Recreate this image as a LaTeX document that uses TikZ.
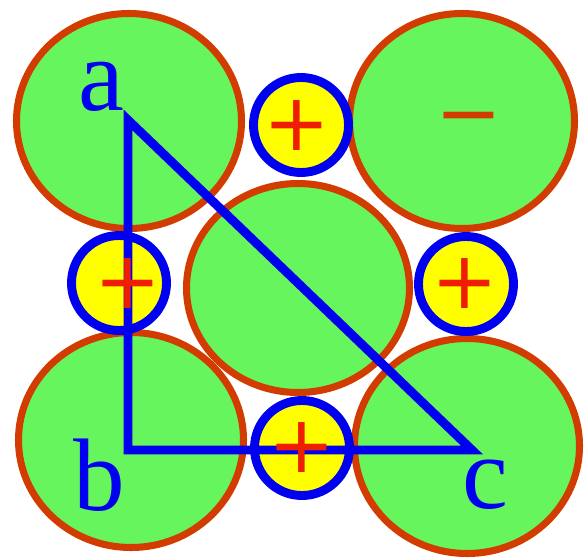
\documentclass[tikz,border=0pt]{standalone}
\usepackage{fontspec}
\setmainfont{Liberation Serif}
\newfontfamily\signfont{DejaVu Sans}
\usetikzlibrary{shapes.geometric}
\definecolor{ionred}{HTML}{D23C00}
\definecolor{iongreen}{HTML}{66F55C}
\definecolor{ionblue}{HTML}{0000F0}
\definecolor{plusred}{HTML}{F01E00}
\definecolor{ionyellow}{HTML}{FFFF00}

\begin{document}
\begin{tikzpicture}[x=0.03cm, y=-0.03cm,
    anion/.style={ellipse, draw=ionred, fill=iongreen, line width=6pt, minimum width=6.75cm, minimum height=6.45cm, inner sep=0pt},
    cation/.style={circle, draw=ionblue, fill=ionyellow, line width=7.6pt, minimum size=2.85cm, inner sep=0pt},
    chargesign/.style={font=\signfont\fontsize{68}{68}\selectfont, inner sep=0pt},
    vertexlabel/.style={font=\fontsize{88}{88}\selectfont, text=ionblue, inner sep=0pt}]
  \useasboundingbox (0,0) rectangle (587,557);
  % large ions
  \node[anion] (tl) at (129,121) {};
  \node[anion] (tr) at (462,121) {};
  \node[anion] (bl) at (131,440) {};
  \node[anion] (br) at (467,446) {};
  \node[anion, minimum width=6.69cm, minimum height=6.27cm] (mid) at (298,288) {};
  % small ions
  \foreach \s/\x/\y in {t/301/125, l/119/283, r/466/284, b/302/448}{
    \node[cation] (k\s) at (\x,\y) {};
  }
  % triangle
  \coordinate (a) at (128,120);
  \coordinate (b) at (128,450);
  \coordinate (c) at (472,450);
  \draw[ionblue, line width=7.6pt] (a) -- (b) -- (c) -- cycle;
  \node[vertexlabel] (la) at (101,87) {a};
  \node[vertexlabel] (lb) at (99,475) {b};
  \node[vertexlabel] (lc) at (485,485) {c};
  % charges
  \foreach \s/\x/\y in {t/297/126, l/128/284, r/465/284, b/302/448}{
    \node[chargesign, text=plusred] (p\s) at (\x,\y) {+};
  }
  \node[chargesign, text=ionred] (minus) at (469,126) {−};
\end{tikzpicture}
\end{document}
